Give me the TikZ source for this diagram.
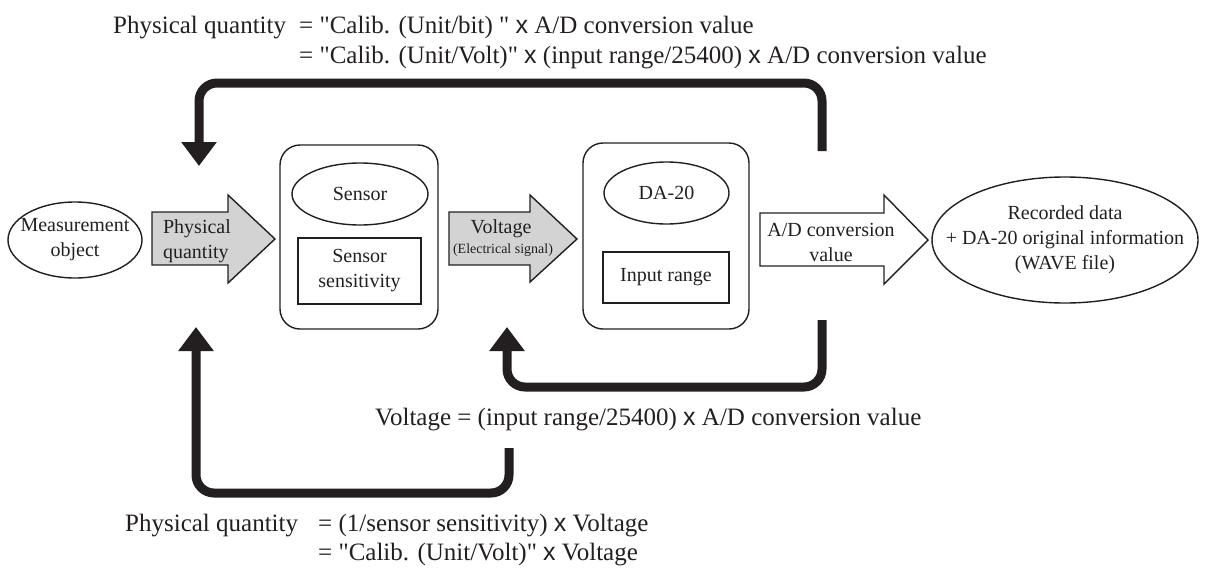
\documentclass[tikz,border=0pt]{standalone}
\usepackage{fontspec}
\setmainfont{Liberation Serif}[Ligatures=TeXOff]
\newfontfamily\xsans{Liberation Sans}
\usetikzlibrary{arrows.meta,shapes.geometric}
\definecolor{ink}{RGB}{35,31,32}
\definecolor{shade}{RGB}{211,211,211}
\newcommand{\tms}{{\xsans x}}
\newcommand{\qd}{\symbol{34}}
\begin{document}
\begin{tikzpicture}[x=1pt,y=-1pt,
  lbl/.style={font=\fontsize{20}{25}\selectfont, align=center, inner sep=0pt, text=ink},
  small/.style={font=\fontsize{14}{16}\selectfont, align=center, inner sep=0pt, text=ink},
  eq/.style={font=\fontsize{25}{30}\selectfont, anchor=base west, inner sep=0pt, text=ink},
  outline/.style={draw=ink, line width=1.4pt},
  oval/.style={ellipse, outline, inner sep=0pt},
  panel/.style={rectangle, rounded corners=20pt, outline, inner sep=0pt},
  plainbox/.style={rectangle, outline, inner sep=0pt},
  blockarrow/.style={draw=ink, line width=1.4pt, line join=miter},
  feedback/.style={draw=ink, line width=9pt, rounded corners=18pt, -{Triangle[width=34pt,length=24pt]}}]
\useasboundingbox (0,0) rectangle (1205,568);

% equations
\node[eq] (e1a) at (113,33) {Physical quantity};
\node[eq] (e1b) at (299,33) {= \qd Calib. (Unit/bit) \qd\ \tms{} A/D conversion value};
\node[eq] (e1c) at (299,63) {= \qd Calib. (Unit/Volt)\qd\ \tms{} (input range/25400) \tms{} A/D conversion value};
\node[eq] (e2) at (375,425) {Voltage = (input range/25400) \tms{} A/D conversion value};
\node[eq] (e3a) at (125,531) {Physical quantity};
\node[eq] (e3b) at (318,531) {= (1/sensor sensitivity) \tms{} Voltage};
\node[eq] (e3c) at (318,560) {= \qd Calib. (Unit/Volt)\qd\ \tms{} Voltage};

% measurement object
\node[oval, minimum width=134pt, minimum height=76pt] (meas) at (75,240) {};
\node[lbl] (meastxt) at (meas.center) {Measurement\\object};

% physical quantity block arrow
\draw[blockarrow, fill=shade] (152,212) -- (228,212) -- (228,195) -- (275,239) -- (228,283) -- (228,265) -- (152,265) -- cycle;
\node[lbl, align=left] (pqtxt) at (197,241) {Physical\\quantity};

% sensor panel
\node[panel, minimum width=158pt, minimum height=184pt] (sensorpanel) at (359,237) {};
\node[oval, minimum width=136pt, minimum height=62pt] (sensor) at (360,194) {};
\node[lbl] (sensortxt) at (sensor.center) {Sensor};
\node[plainbox, minimum width=123pt, minimum height=66pt] (sens) at (359.5,271) {};
\node[lbl] (senstxt) at (sens.center) {Sensor\\sensitivity};

% voltage block arrow
\draw[blockarrow, fill=shade] (449,212) -- (530,212) -- (530,195) -- (577,239) -- (530,282) -- (530,265) -- (449,265) -- cycle;
\node[lbl] (volt) at (501,229) {Voltage};
\node[small] (voltsub) at (503,250) {(Electrical signal)};

% DA-20 panel
\node[panel, minimum width=166pt, minimum height=186pt] (dapanel) at (666,236) {};
\node[oval, minimum width=125pt, minimum height=62pt] (da) at (666.5,193) {};
\node[lbl] (datxt) at (da.center) {DA-20};
\node[plainbox, minimum width=126pt, minimum height=51pt] (range) at (666,277.5) {};
\node[lbl] (rangetxt) at (range.center) {Input range};

% A/D conversion block arrow
\draw[blockarrow, fill=white] (760,213) -- (884,213) -- (884,195) -- (928,240) -- (884,284) -- (884,266) -- (760,266) -- cycle;
\node[lbl] (adtxt) at (831,242) {A/D conversion\\value};

% recorded data
\node[oval, minimum width=266pt, minimum height=126pt] (rec) at (1065,240) {};
\node[lbl] (rectxt) at (rec.center) {Recorded data\\+ DA-20 original information\\(WAVE file)};

% feedback arrows
\coordinate (fbA) at (822,151);
\coordinate (fbAend) at (199,166);
\draw[feedback] (fbA) -- (822,83) -| (fbAend);

\coordinate (fbB) at (822,320);
\coordinate (fbBend) at (507,327);
\draw[feedback] (fbB) -- (822,387) -| (fbBend);

\coordinate (fbC) at (509,448);
\coordinate (fbCend) at (196,327);
\draw[feedback] (fbC) -- (509,493) -| (fbCend);
\end{tikzpicture}
\end{document}
